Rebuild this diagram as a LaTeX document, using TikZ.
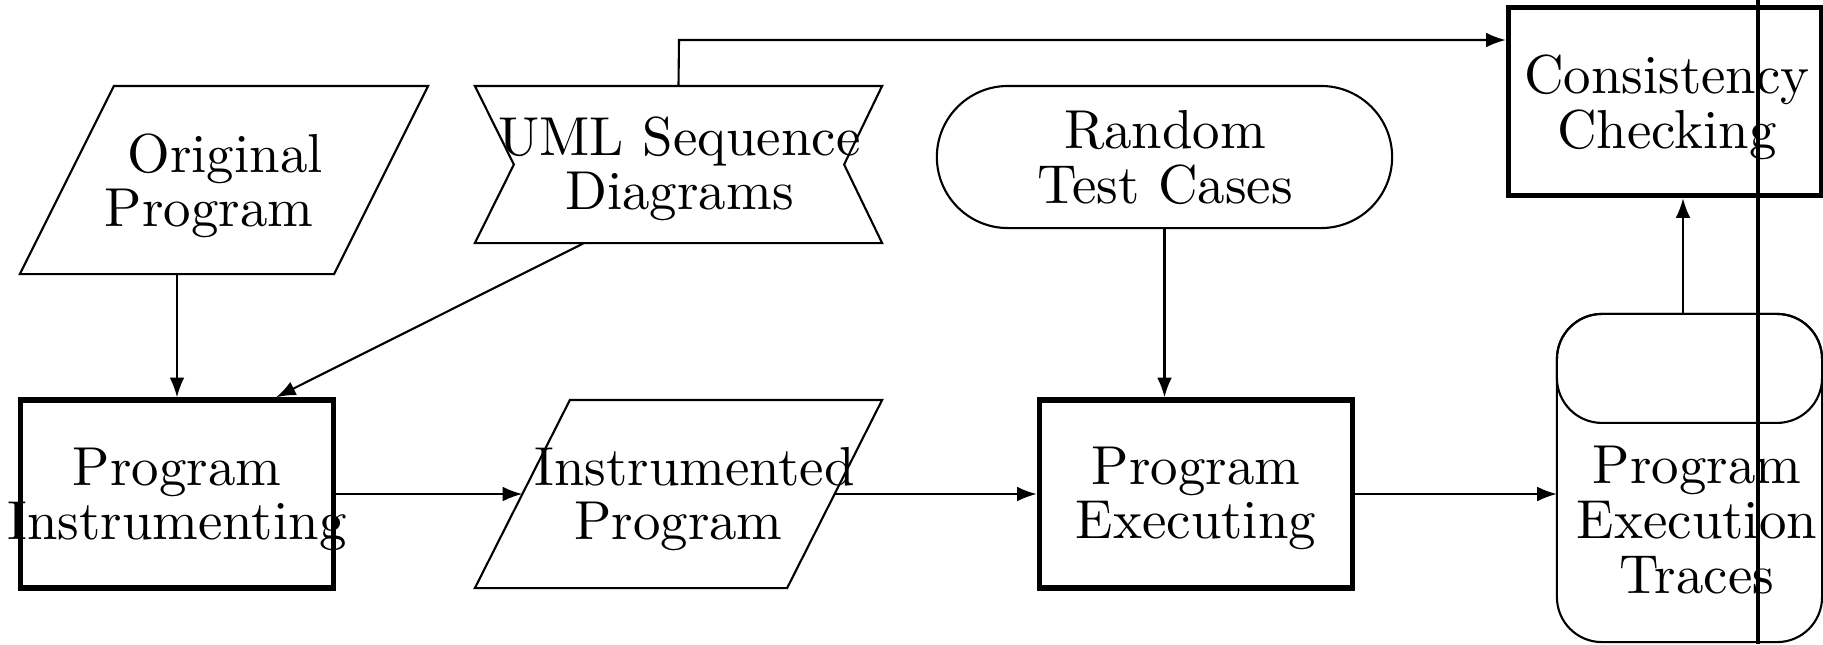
\documentclass[tikz,border=0pt]{standalone}
\usepackage{graphicx}
\usetikzlibrary{arrows.meta,calc}
\newcommand{\boxtext}[1]{\scalebox{1.56}{\fontsize{10pt}{9.95pt}\selectfont\begin{tabular}{@{}c@{}}#1\end{tabular}}}
\begin{document}
\begin{tikzpicture}[x=0.01cm,y=-0.01cm,
  edge/.style={line width=0.6pt},
  heavybox/.style={draw, line width=1.5pt, minimum width=3.13cm, minimum height=1.88cm, inner sep=0pt},
  frame/.style={inner sep=0pt, outer sep=0pt},
  lbl/.style={inner sep=0pt},
  arr/.style={line width=0.6pt, -{Latex[length=5.6pt,width=4.2pt]}}]
\useasboundingbox (0,0) rectangle (1823,644);

% process boxes
\node[heavybox] (instr) at (177,494) {};
\node[heavybox] (exec) at (1196,494) {};
\node[heavybox] (check) at (1665,101.5) {};

% frames of the data shapes
\node[frame, minimum width=4.08cm, minimum height=1.88cm] (orig) at (224,180) {};
\node[frame, minimum width=4.07cm, minimum height=1.57cm] (uml) at (678.5,164.5) {};
\node[frame, minimum width=4.55cm, minimum height=1.42cm] (rnd) at (1164.5,157) {};
\node[frame, minimum width=4.07cm, minimum height=1.88cm] (inp) at (678.5,494) {};
\node[frame, minimum width=2.65cm, minimum height=3.28cm] (tr) at (1689.5,478) {};

% original program (parallelogram)
\draw[edge] ($(orig.north west)+(94,0)$) -- (orig.north east)
  -- ($(orig.south east)+(-94,0)$) -- (orig.south west) -- cycle;
% instrumented program (parallelogram)
\draw[edge] ($(inp.north west)+(95,0)$) -- (inp.north east)
  -- ($(inp.south east)+(-95,0)$) -- (inp.south west) -- cycle;
% sequence diagrams (notched banner)
\draw[edge] (uml.north west) -- (uml.north east) -- ($(uml.east)+(-38,0)$)
  -- (uml.south east) -- (uml.south west) -- ($(uml.west)+(39,0)$) -- cycle;
% random test cases (terminal)
\draw[edge, rounded corners=0.71cm] (rnd.north west) rectangle (rnd.south east);
% execution traces (store)
\draw[edge, rounded corners=0.45cm] (tr.north west) rectangle (tr.south east);
\draw[edge, rounded corners=0.45cm] (tr.north west) rectangle ($(tr.north east)+(0,109)$);

% labels
\node[lbl] (orig-t) at (217,188.5) {\boxtext{\hspace*{0.103cm}Original\\Program\hspace*{0.103cm}}};
\node[lbl] (uml-t) at (679.5,171.5) {\boxtext{UML Sequence\\Diagrams}};
\node[lbl] (rnd-t) at (1165,165.5) {\boxtext{Random\\Test Cases}};
\node[lbl] (check-t) at (1667,109.5) {\boxtext{Consistency\\Checking}};
\node[lbl] (instr-t) at (177,501.5) {\boxtext{Program\\Instrumenting}};
\node[lbl] (inp-t) at (686.5,501.5) {\boxtext{\hspace*{0.103cm}Instrumented\\Program\hspace*{0.103cm}}};
\node[lbl] (exec-t) at (1196,500.5) {\boxtext{Program\\Executing}};
\node[lbl] (tr-t) at (1697,527.5) {\boxtext{Program\\Execution\\Traces}};

% connectors
\coordinate (bend) at (679,40);
\coordinate (tr-top) at ($(tr.north)+(-6.5,0)$);
\draw[arr] (orig.south -| instr.north) -- (instr.north);
\draw[arr] ($(uml.south)+(-94.5,0)$) -- ($(instr.north)+(99,0)$);
\draw[arr] (uml.north) -- (bend) -- (bend -| check.west);
\draw[arr] (rnd.south) -- (rnd.south |- exec.north);
\draw[arr] (instr.east) -- ($(inp.west)+(47.5,0)$);
\draw[arr] ($(inp.east)+(-47.5,0)$) -- (exec.west);
\draw[arr] (exec.east) -- (exec.east -| tr.west);
\draw[arr] (tr-top) -- (tr-top |- check.south);

% vertical rule
\draw[line width=1.2pt] (1758,0) -- (1758,644);
\end{tikzpicture}
\end{document}
